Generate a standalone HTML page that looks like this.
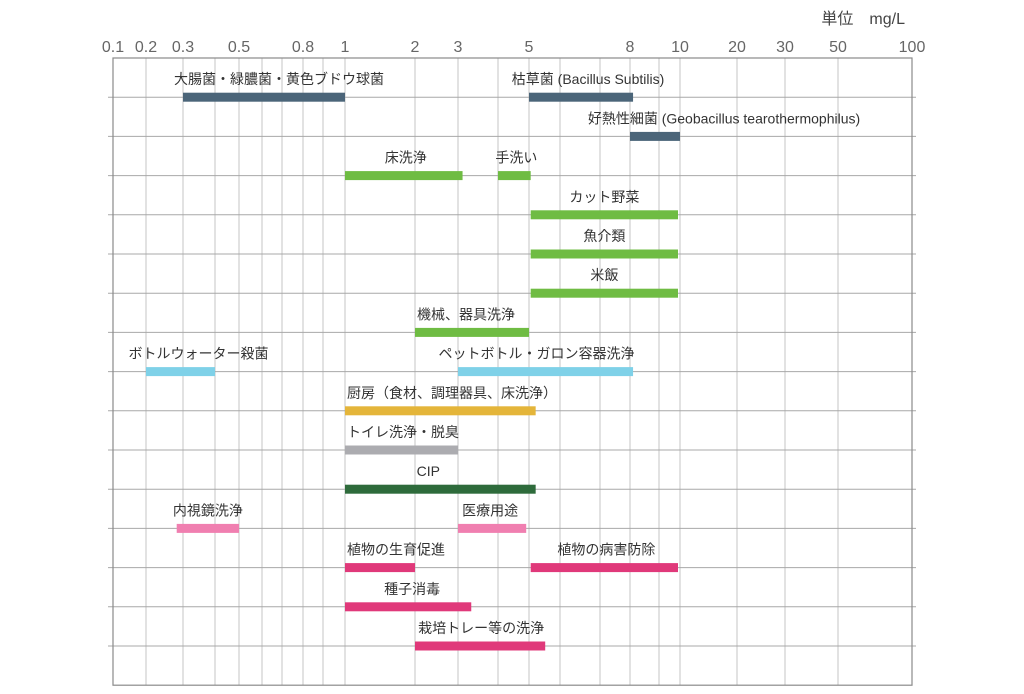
<!DOCTYPE html>
<html><head><meta charset="utf-8">
<style>
html,body{margin:0;padding:0;background:#fff;}
svg{display:block;font-family:"Liberation Sans","Noto Sans CJK JP",sans-serif;}
</style></head>
<body>
<svg id="chart" width="1024" height="694" viewBox="0 0 1024 694" xmlns="http://www.w3.org/2000/svg">
<text x="905" y="24" text-anchor="end" font-size="16" fill="#444">単位　mg/L</text>
</svg>
<script>
// ---- data ----
const tickValues = [0.1,0.2,0.3,0.5,0.8,1,2,3,5,8,10,20,30,50,100];
const tickLabels = ["0.1","0.2","0.3","0.5","0.8","1","2","3","5","8","10","20","30","50","100"];
const gridValues = [0.2,0.3,0.4,0.5,0.6,0.7,0.8,0.9,1,2,3,4,5,6,7,8,9,10,20,30,50];
const barLabels = ["大腸菌・緑膿菌・黄色ブドウ球菌","枯草菌 (Bacillus  Subtilis)","好熱性細菌 (Geobacillus tearothermophilus)","床洗浄","手洗い","カット野菜","魚介類","米飯","機械、器具洗浄","ボトルウォーター殺菌","ペットボトル・ガロン容器洗浄","厨房（食材、調理器具、床洗浄）","トイレ洗浄・脱臭","CIP","内視鏡洗浄","医療用途","植物の生育促進","植物の病害防除","種子消毒","栽培トレー等の洗浄"];
const barRows = [0,0,1,2,2,3,4,5,6,7,7,8,9,10,11,11,12,12,13,14];
const barStart = [0.3,5,8,1,4,5.05,5.05,5.05,2,0.2,3,1,1,1,0.28,3,1,5.05,1,2];
const barEnd = [1,8.1,10,3.1,5.05,9.9,9.9,9.9,5,0.4,8.1,5.2,3,5.2,0.5,4.9,2,9.9,3.3,5.5];
const barColors = ["#4b6579","#4b6579","#4b6579","#6fbc43","#6fbc43","#6fbc43","#6fbc43","#6fbc43","#6fbc43","#7fd1e8","#7fd1e8","#e4b53a","#acacb0","#2e6b3b","#f07fb0","#f07fb0","#e0397a","#e0397a","#e0397a","#e0397a"];
const labelDx = [15,7,69,2,2,0,0,0,-6,18,-9,0,0,-12,0,-2,16,2,4,1];
const labelAnchor = ["m","m","m","m","m","m","m","m","m","m","m","s","s","m","m","m","m","m","m","m"];

// ---- axis functions ----
const anchorV=[0.1,0.2,0.3,0.4,0.5,0.6,0.7,0.8,0.9,1,2,3,4,5,6,7,8,9,10,20,30,50,100];
const anchorP=[113,146,183,215,239,262,282,303,323,345,415,458,498,529,560,600,630,659,680,737,785,838,912];
function xScale(v){
  if(v<=anchorV[0]) return anchorP[0];
  for(let i=1;i<anchorV.length;i++){
    if(v<=anchorV[i]){
      const a=Math.log(anchorV[i-1]),b=Math.log(anchorV[i]);
      return anchorP[i-1]+(Math.log(v)-a)/(b-a)*(anchorP[i]-anchorP[i-1]);
    }
  }
  return anchorP[anchorP.length-1];
}
const plotTop=58,rowH=39.2;
function yRow(r){return plotTop+rowH*(r+1);}

const svg=document.getElementById('chart');
const NS='http://www.w3.org/2000/svg';
function mk(tag,attrs){const e=document.createElementNS(NS,tag);for(const k in attrs)e.setAttribute(k,attrs[k]);svg.appendChild(e);return e;}

// grid
gridValues.forEach(v=>{
  const x=xScale(v);
  const l=mk('line',{x1:x,x2:x,y1:plotTop,y2:plotTop+rowH*16,stroke:'#c4c4c4','stroke-width':1});
  
  
});
for(let r=0;r<15;r++){
  const y=yRow(r);
  const l=mk('line',{x1:108,x2:916,y1:y,y2:y,stroke:'#a8a8a8','stroke-width':1});
  
  
}
const fr=mk('rect',{x:113,y:plotTop,width:912-113,height:rowH*16,fill:'none',stroke:'#8a8a8a','stroke-width':1.2});



// ticks
tickValues.forEach((v,i)=>{
  const t=mk('text',{x:xScale(v),y:52,'text-anchor':'middle','font-size':16,fill:'#666'});
  t.textContent=tickLabels[i];
  
  
});

// bars
barLabels.forEach((lab,i)=>{
  const x0=xScale(barStart[i]),x1=xScale(barEnd[i]),y=yRow(barRows[i]);
  const b=mk('rect',{x:x0,y:y-4.5,width:x1-x0,height:9,fill:barColors[i]});
  
  
  const s=labelAnchor[i]==='s';
  const t=mk('text',{x:s?x0+2:(x0+x1)/2+labelDx[i],y:y-13,'text-anchor':s?'start':'middle','font-size':14,fill:'#333'});
  t.textContent=lab;
  
  
});
</script>
</body></html>
